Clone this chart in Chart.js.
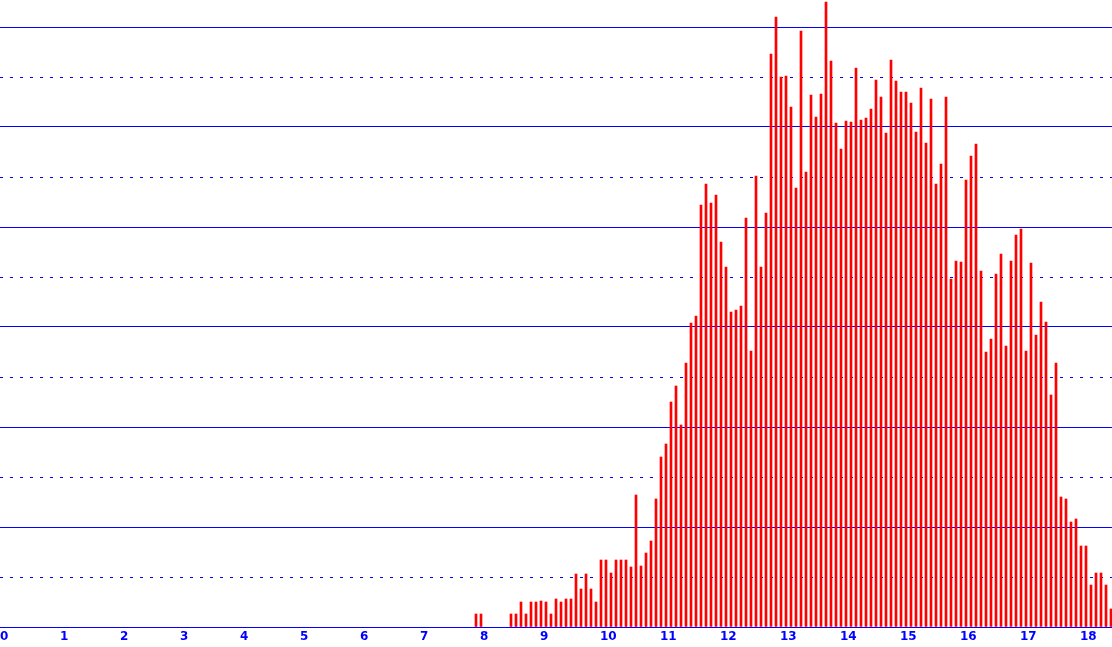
<!DOCTYPE html>
<html>
<head>
<meta charset="utf-8">
<script src="https://cdn.jsdelivr.net/npm/chart.js@4.4.0/dist/chart.umd.min.js"></script>
<style>
  html, body { margin: 0; padding: 0; background: #fff; }
  #wrap { width: 1112px; height: 647px; }
</style>
</head>
<body>
<div id="wrap"><canvas id="chart"></canvas></div>
<script>
// --- DATI ---
// age in months of the first bar, one bar per month after it (null = no bar)
const firstMonth = 95;
const values = [
  1.3, 1.3, null, null, null, null, null, 1.3, 1.3, 2.5, 1.3, 2.5, 2.5, 2.6, 2.5, 1.3, 2.8, 2.5, 2.8, 2.8,
  5.3, 3.8, 5.3, 3.8, 2.5, 6.7, 6.7, 5.4, 6.7, 6.7, 6.7, 6.0, 13.2, 6.1, 7.4, 8.6, 12.8, 17.0, 18.3, 22.5,
  24.1, 20.2, 26.4, 30.4, 31.1, 42.2, 44.3, 42.4, 43.2, 38.5, 36.0, 31.5, 31.7, 32.1, 40.9, 27.6, 45.1, 36.0, 41.4, 57.3,
  61.0, 55.0, 55.1, 52.0, 43.9, 59.6, 45.5, 53.2, 51.0, 53.3, 62.5, 56.6, 50.4, 47.8, 50.6, 50.5, 55.9, 50.7, 50.9, 51.8,
  54.7, 53.0, 49.4, 56.7, 54.6, 53.5, 53.5, 52.4, 49.5, 53.9, 48.4, 52.8, 44.3, 46.3, 53.0, 34.8, 36.6, 36.5, 44.7, 47.1,
  48.3, 35.6, 27.5, 28.8, 35.3, 37.3, 28.1, 36.6, 39.2, 39.8, 27.6, 36.4, 29.2, 32.5, 30.5, 23.2, 26.4, 13.0, 12.8, 10.5,
  10.8, 8.1, 8.1, 4.2, 5.4, 5.4, 4.2, 1.8
];
const yearTicks = [0, 1, 2, 3, 4, 5, 6, 7, 8, 9, 10, 11, 12, 13, 14, 15, 16, 17, 18];
const solidLines = [0, 10, 20, 30, 40, 50, 60];
const dottedLines = [5, 15, 25, 35, 45, 55];
const yMax = 62.7;

const blue = '#0000ff';

// punti {x: anni, y: valore}
const points = values.map((v, i) => ({ x: (firstMonth + i) / 12, y: v }));

const xMin = -1 / 60;
const xMax = xMin + 1112 / 60;

new Chart(document.getElementById('chart'), {
    type: 'bar',
    data: {
        datasets: [{
            data: points,
            backgroundColor: '#ff0000',
            borderWidth: 0,
            barThickness: 2
        }]
    },
    options: {
        responsive: true,
        maintainAspectRatio: false,
        animation: false,
        layout: { padding: 0 },
        plugins: {
            legend: { display: false },
            tooltip: { enabled: false }
        },
        scales: {
            x: {
                type: 'linear',
                min: xMin,
                max: xMax,
                offset: false,
                afterBuildTicks: s => { s.ticks = yearTicks.map(v => ({ value: v })); },
                afterFit: s => { s.height = 20; s.paddingLeft = 0; s.paddingRight = 0; },
                grid: { drawOnChartArea: false, drawTicks: false },
                border: { color: blue, width: 1 },
                ticks: {
                    autoSkip: false,
                    maxRotation: 0,
                    minRotation: 0,
                    align: 'start',
                    padding: 3,
                    labelOffset: -1,
                    color: blue,
                    font: { family: 'DejaVu Sans', weight: 'bold', size: 12 },
                    callback: v => String(v)
                }
            },
            y: {
                min: 0,
                max: yMax,
                afterBuildTicks: s => { s.ticks = solidLines.map(v => ({ value: v })); },
                afterFit: s => { s.width = 0; },
                ticks: { display: false },
                grid: { color: blue, lineWidth: 1, drawTicks: false },
                border: { display: false }
            },
            y2: {
                position: 'left',
                min: 0,
                max: yMax,
                afterBuildTicks: s => { s.ticks = dottedLines.map(v => ({ value: v })); },
                afterFit: s => { s.width = 0; },
                ticks: { display: false },
                grid: { color: blue, lineWidth: 1, drawTicks: false },
                border: { display: false, dash: [3, 7] }
            }
        }
    }
});
</script>
</body>
</html>
